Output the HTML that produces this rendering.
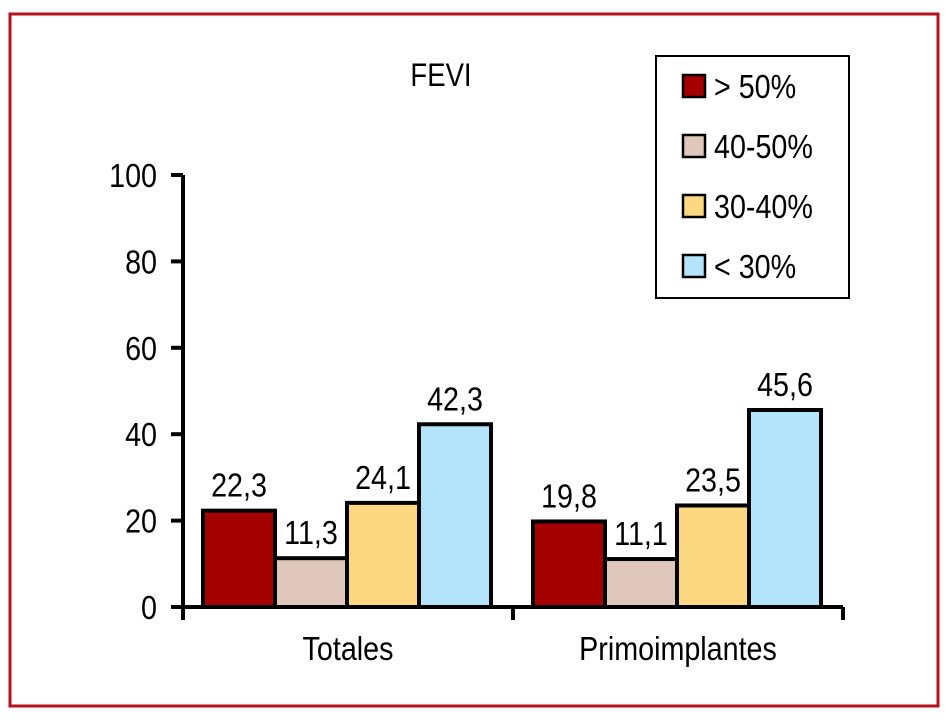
<!DOCTYPE html>
<html><head><meta charset="utf-8"><style>
body{margin:0;background:#fff;}
svg text{font-family:"Liberation Sans",sans-serif;fill:#000;}
</style></head><body>
<svg id="chart" width="948" height="720">
<rect x="10" y="14" width="928" height="692" fill="#fff" stroke="#b5121b" stroke-width="3"/>
<text x="0" y="0" transform="translate(441,86) scale(0.86,1)" font-size="32" text-anchor="middle">FEVI</text>
<g id="plot"></g>
<g id="legend"></g>
</svg>
<script>
const categories=["Totales","Primoimplantes"];
const seriesNames=["> 50%","40-50%","30-40%","< 30%"];
const seriesColors=["#a50000","#e0c7bb","#fcd880","#b3e4fb"];
const valuesGt50=[22.3,19.8];
const values40to50=[11.3,11.1];
const values30to40=[24.1,23.5];
const valuesLt30=[42.3,45.6];
const labelsGt50=["22,3","19,8"];
const labels40to50=["11,3","11,1"];
const labels30to40=["24,1","23,5"];
const labelsLt30=["42,3","45,6"];
const yTicks=[0,20,40,60,80,100];

const NS="http://www.w3.org/2000/svg";
const X0=183,X1=843,Y0=607,Y100=175;
const FS=33, SX=0.87;
const y=v=>Y0-(v/100)*(Y0-Y100);
const groupW=(X1-X0)/categories.length;
const plot=document.getElementById('plot');
function mk(tag,attrs,parent){const e=document.createElementNS(NS,tag);for(const k in attrs)e.setAttribute(k,attrs[k]);parent.appendChild(e);return e;}
function txt(x,yy,anchor,parent){return mk('text',{x:0,y:0,transform:`translate(${x},${yy}) scale(${SX},1)`,'font-size':FS,'text-anchor':anchor},parent);}
const series=[valuesGt50,values40to50,values30to40,valuesLt30];
const labels=[labelsGt50,labels40to50,labels30to40,labelsLt30];
const barW=72;
categories.forEach((c,i)=>{
  const gx=X0+i*groupW+20;
  series.forEach((s,j)=>{
    const bx=gx+j*barW, by=y(s[i]);
    const r=mk('rect',{x:bx,y:by,width:barW,height:Y0-by,fill:seriesColors[j],stroke:'#000','stroke-width':4},plot);
    
    
    const t=txt(bx+barW/2,by-14,'middle',plot);
    t.textContent=labels[j][i];
    
    
  });
  const cl=txt(X0+i*groupW+groupW/2,660,'middle',plot);
  cl.textContent=c;
  
  
});
const ax=mk('path',{d:`M${X0} ${Y100}V${Y0}M${X0-12} ${Y0}H${X1}`,stroke:'#000','stroke-width':4,fill:'none'},plot);


for(let k=0;k<=categories.length;k++){
  const tk=mk('line',{x1:X0+k*groupW,x2:X0+k*groupW,y1:Y0,y2:Y0+13,stroke:'#000','stroke-width':4},plot);
  
  
}
yTicks.forEach(v=>{
  const tk=mk('line',{x1:X0-12,x2:X0,y1:y(v),y2:y(v),stroke:'#000','stroke-width':4},plot);
  
  
  const t=txt(X0-26,y(v)+12,'end',plot);
  t.textContent=v;
  
  
});
const lg=document.getElementById('legend');
const box=mk('rect',{x:656,y:56,width:193,height:242,fill:'#fff',stroke:'#000','stroke-width':2},lg);


seriesNames.forEach((n,j)=>{
  const cy=86+j*60;
  const sw=mk('rect',{x:683,y:cy-11,width:22,height:22,fill:seriesColors[j],stroke:'#000','stroke-width':2.5},lg);
  
  
  const t=txt(714,cy+12,'start',lg);
  t.textContent=n;
  
  
});
</script>
</body></html>
